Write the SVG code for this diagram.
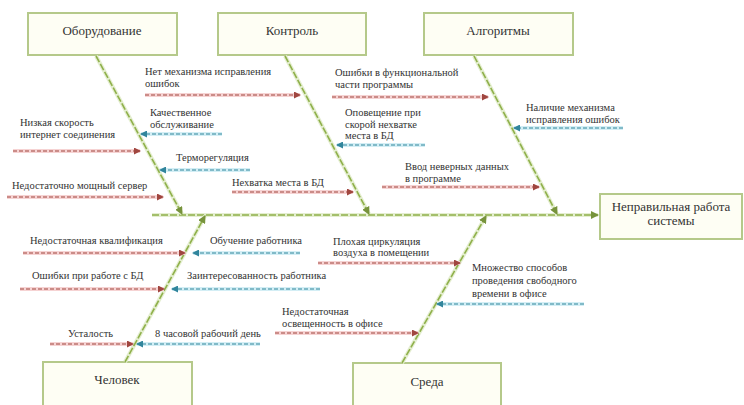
<svg xmlns="http://www.w3.org/2000/svg" width="744" height="405" viewBox="0 0 744 405">
<defs>
<marker id="ag" markerWidth="8" markerHeight="8" refX="7" refY="4" orient="auto" markerUnits="userSpaceOnUse"><path d="M0,0 L8,4 L0,8 Z" fill="#77933c"/></marker>
<marker id="ar" markerWidth="7" markerHeight="7" refX="6" refY="3.5" orient="auto" markerUnits="userSpaceOnUse"><path d="M0,0 L7,3.5 L0,7 Z" fill="#a0463f"/></marker>
<marker id="ab" markerWidth="7" markerHeight="7" refX="6" refY="3.5" orient="auto" markerUnits="userSpaceOnUse"><path d="M0,0 L7,3.5 L0,7 Z" fill="#31859c"/></marker>
</defs>
<style>
.box{fill:#fefef4;stroke:#b5c98a;stroke-width:2}
.title{font-size:13px;fill:#333;text-anchor:middle}
.lbl{font-size:10.5px;fill:#333}
.bone{stroke:#8fb04a;stroke-width:1.6;stroke-dasharray:7 2;fill:none}
.boneh{stroke:#e4eed0;stroke-width:4;fill:none}
.rh{stroke:#f6d3d3;stroke-width:4;fill:none}
.r{stroke:#a0463f;stroke-width:1.2;stroke-dasharray:4 2;fill:none}
.bh{stroke:#d3eef5;stroke-width:4;fill:none}
.b{stroke:#31859c;stroke-width:1.2;stroke-dasharray:4 2;fill:none}
</style>
<rect width="744" height="405" fill="#ffffff"/>
<g font-family="Liberation Serif, Times New Roman, serif">
<g id="node-equipment"><rect class="box" x="28" y="13" width="149" height="42"/><text class="title" x="102" y="35">Оборудование</text></g>
<g id="node-control"><rect class="box" x="218" y="13" width="148" height="42"/><text class="title" x="292" y="35">Контроль</text></g>
<g id="node-algorithms"><rect class="box" x="424" y="13" width="149" height="42"/><text class="title" x="498" y="35">Алгоритмы</text></g>
<g id="node-effect"><rect class="box" x="600" y="194" width="142" height="45"/><text class="title" x="671" y="211">Неправильная работа</text><text class="title" x="671" y="225">системы</text></g>
<g id="node-human"><rect class="box" x="43" y="362" width="149" height="50"/><text class="title" x="117" y="384">Человек</text></g>
<g id="node-environment"><rect class="box" x="353" y="363" width="148" height="50"/><text class="title" x="427" y="386">Среда</text></g>
<g id="connectors">
<line class="boneh" x1="152" y1="215" x2="598" y2="215"/>
<line class="bone" x1="152" y1="215" x2="598" y2="215" marker-end="url(#ag)"/>
<line class="boneh" x1="96" y1="56" x2="182" y2="214"/>
<line class="bone" x1="96" y1="56" x2="182" y2="214" marker-end="url(#ag)"/>
<line class="boneh" x1="285" y1="56" x2="369" y2="214"/>
<line class="bone" x1="285" y1="56" x2="369" y2="214" marker-end="url(#ag)"/>
<line class="boneh" x1="474" y1="56" x2="557" y2="214"/>
<line class="bone" x1="474" y1="56" x2="557" y2="214" marker-end="url(#ag)"/>
<line class="boneh" x1="125" y1="362" x2="205" y2="216"/>
<line class="bone" x1="125" y1="362" x2="205" y2="216" marker-end="url(#ag)"/>
<line class="boneh" x1="402" y1="363" x2="486" y2="216"/>
<line class="bone" x1="402" y1="363" x2="486" y2="216" marker-end="url(#ag)"/>
<g>
<line class="rh" x1="13" y1="151" x2="140" y2="151"/><line class="r" x1="13" y1="151" x2="140" y2="151" marker-end="url(#ar)"/>
<line class="rh" x1="7" y1="197" x2="163" y2="197"/><line class="r" x1="7" y1="197" x2="163" y2="197" marker-end="url(#ar)"/>
<line class="rh" x1="145" y1="95" x2="300" y2="95"/><line class="r" x1="145" y1="95" x2="300" y2="95" marker-end="url(#ar)"/>
<line class="rh" x1="232" y1="192" x2="353" y2="192"/><line class="r" x1="232" y1="192" x2="353" y2="192" marker-end="url(#ar)"/>
<line class="rh" x1="332" y1="97" x2="488" y2="97"/><line class="r" x1="332" y1="97" x2="488" y2="97" marker-end="url(#ar)"/>
<line class="rh" x1="382" y1="187" x2="539" y2="187"/><line class="r" x1="382" y1="187" x2="539" y2="187" marker-end="url(#ar)"/>
<line class="rh" x1="23" y1="253" x2="185" y2="253"/><line class="r" x1="23" y1="253" x2="185" y2="253" marker-end="url(#ar)"/>
<line class="rh" x1="20" y1="289" x2="164" y2="289"/><line class="r" x1="20" y1="289" x2="164" y2="289" marker-end="url(#ar)"/>
<line class="rh" x1="50" y1="344" x2="133" y2="344"/><line class="r" x1="50" y1="344" x2="133" y2="344" marker-end="url(#ar)"/>
<line class="rh" x1="318" y1="263" x2="460" y2="263"/><line class="r" x1="318" y1="263" x2="460" y2="263" marker-end="url(#ar)"/>
<line class="rh" x1="275" y1="333" x2="418" y2="333"/><line class="r" x1="275" y1="333" x2="418" y2="333" marker-end="url(#ar)"/>
</g>
<g>
<line class="bh" x1="222" y1="134" x2="141" y2="134"/><line class="b" x1="222" y1="134" x2="141" y2="134" marker-end="url(#ab)"/>
<line class="bh" x1="250" y1="170" x2="160" y2="170"/><line class="b" x1="250" y1="170" x2="160" y2="170" marker-end="url(#ab)"/>
<line class="bh" x1="425" y1="145" x2="337" y2="145"/><line class="b" x1="425" y1="145" x2="337" y2="145" marker-end="url(#ab)"/>
<line class="bh" x1="623" y1="128" x2="514" y2="128"/><line class="b" x1="623" y1="128" x2="514" y2="128" marker-end="url(#ab)"/>
<line class="bh" x1="300" y1="253" x2="193" y2="253"/><line class="b" x1="300" y1="253" x2="193" y2="253" marker-end="url(#ab)"/>
<line class="bh" x1="320" y1="289" x2="172" y2="289"/><line class="b" x1="320" y1="289" x2="172" y2="289" marker-end="url(#ab)"/>
<line class="bh" x1="260" y1="344" x2="137" y2="344"/><line class="b" x1="260" y1="344" x2="137" y2="344" marker-end="url(#ab)"/>
<line class="bh" x1="584" y1="304" x2="437" y2="304"/><line class="b" x1="584" y1="304" x2="437" y2="304" marker-end="url(#ab)"/>
</g>
</g>
<g id="labels">
<text class="lbl" x="145" y="75">Нет механизма исправления</text><text class="lbl" x="145" y="87">ошибок</text>
<text class="lbl" x="150" y="116">Качественное</text><text class="lbl" x="150" y="128">обслуживание</text>
<text class="lbl" x="20" y="126">Низкая скорость</text><text class="lbl" x="20" y="138">интернет соединения</text>
<text class="lbl" x="176" y="161">Терморегуляция</text>
<text class="lbl" x="12" y="189">Недостаточно мощный сервер</text>
<text class="lbl" x="232" y="186">Нехватка места в БД</text>
<text class="lbl" x="335" y="76">Ошибки в функциональной</text><text class="lbl" x="335" y="88">части программы</text>
<text class="lbl" x="345" y="116">Оповещение при</text><text class="lbl" x="345" y="128">скорой нехватке</text><text class="lbl" x="345" y="139">места в БД</text>
<text class="lbl" x="526" y="111">Наличие механизма</text><text class="lbl" x="526" y="123">исправления ошибок</text>
<text class="lbl" x="405" y="170">Ввод неверных данных</text><text class="lbl" x="405" y="182">в программе</text>
<text class="lbl" x="30" y="244">Недостаточная квалификация</text>
<text class="lbl" x="210" y="244">Обучение работника</text>
<text class="lbl" x="32" y="279">Ошибки при работе с БД</text>
<text class="lbl" x="187" y="279">Заинтересованность работника</text>
<text class="lbl" x="68" y="337">Усталость</text>
<text class="lbl" x="155" y="337">8 часовой рабочий день</text>
<text class="lbl" x="333" y="245">Плохая циркуляция</text><text class="lbl" x="333" y="256">воздуха в помещении</text>
<text class="lbl" x="282" y="315">Недостаточная</text><text class="lbl" x="282" y="327">освещенность в офисе</text>
<text class="lbl" x="472" y="271">Множество способов</text><text class="lbl" x="472" y="284">проведения свободного</text><text class="lbl" x="472" y="297">времени в офисе</text>
</g>
</g>
</svg>
